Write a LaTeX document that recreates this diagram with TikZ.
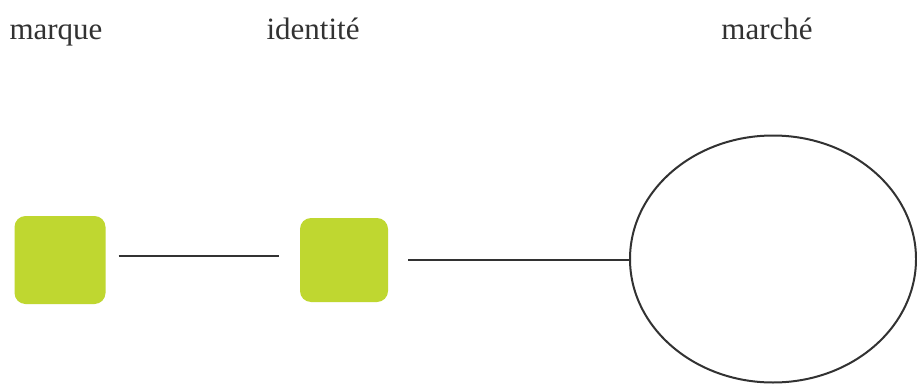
\documentclass[tikz,border=0pt]{standalone}
\usepackage{fontspec}
\setmainfont{Liberation Serif}
\usetikzlibrary{shapes.geometric}
\definecolor{lime}{RGB}{191,215,48}
\definecolor{ink}{RGB}{50,50,50}
\tikzset{
  label/.style={anchor=base, text=ink, font=\fontsize{31}{36}\selectfont, inner sep=0pt},
  box/.style={fill=lime, rounded corners=11pt, inner sep=0pt},
  link/.style={draw=ink, line width=2pt},
  market/.style={ellipse, draw=ink, line width=2pt, inner sep=0pt, minimum width=286pt, minimum height=247pt}
}
\begin{document}
\begin{tikzpicture}[x=1pt,y=-1pt]
\useasboundingbox (0,0) rectangle (917,385);
\fill[white] (0,0) rectangle (917,385);
\node[label] (t1) at (56,40) {marque};
\node[label] (t2) at (313,40) {identité};
\node[label] (t3) at (767,40) {marché};
\node[box, minimum width=91pt, minimum height=88pt] (a) at (60,260) {};
\node[box, minimum width=88pt, minimum height=84pt] (b) at (344,260) {};
\node[market] (c) at (773,259) {};
\draw[link] ([xshift=13pt,yshift=4pt]a.east) -- ([xshift=-21pt,yshift=4pt]b.west);
\draw[link] ([xshift=20pt]b.east) -- (b.east -| c.west);
\end{tikzpicture}
\end{document}
